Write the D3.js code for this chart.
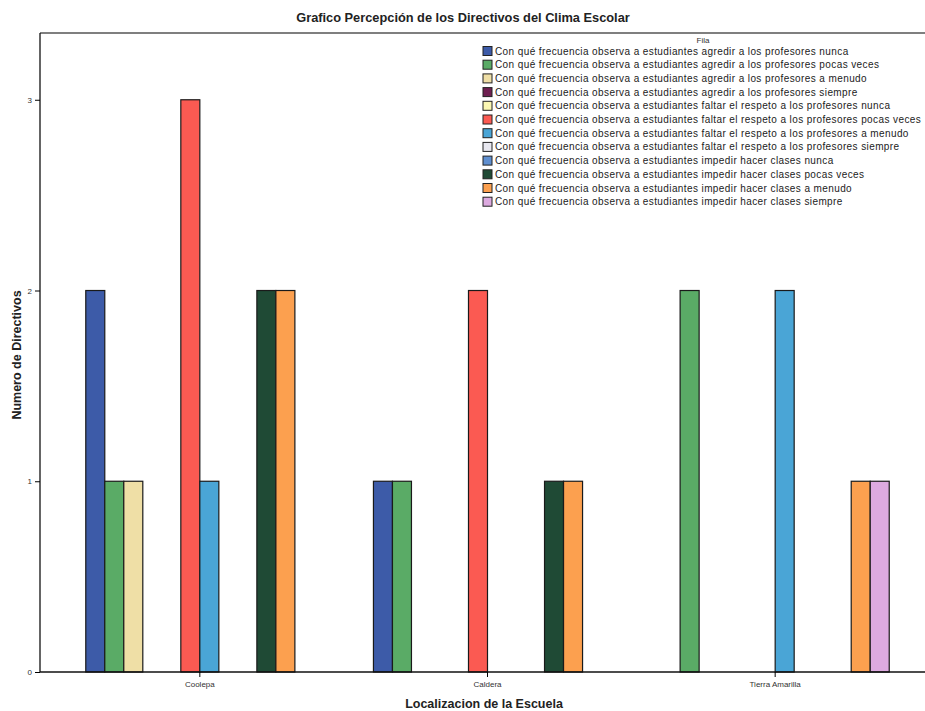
<!DOCTYPE html>
<html><head><meta charset="utf-8">
<script src="https://cdn.jsdelivr.net/npm/d3@7"></script>
<style>body{margin:0;background:#fff}svg{display:block}text{font-family:"Liberation Sans",Arial,sans-serif}</style>
</head><body><svg id="c" width="925" height="711"></svg>
<script>
const categories = ["Coolepa", "Caldera", "Tierra Amarilla"];
const series = [
  "Con qué frecuencia observa a estudiantes agredir a los profesores nunca",
  "Con qué frecuencia observa a estudiantes agredir a los profesores pocas veces",
  "Con qué frecuencia observa a estudiantes agredir a los profesores a menudo",
  "Con qué frecuencia observa a estudiantes agredir a los profesores siempre",
  "Con qué frecuencia observa a estudiantes faltar el respeto a los profesores nunca",
  "Con qué frecuencia observa a estudiantes faltar el respeto a los profesores pocas veces",
  "Con qué frecuencia observa a estudiantes faltar el respeto a los profesores a menudo",
  "Con qué frecuencia observa a estudiantes faltar el respeto a los profesores siempre",
  "Con qué frecuencia observa a estudiantes impedir hacer clases nunca",
  "Con qué frecuencia observa a estudiantes impedir hacer clases pocas veces",
  "Con qué frecuencia observa a estudiantes impedir hacer clases a menudo",
  "Con qué frecuencia observa a estudiantes impedir hacer clases siempre"
];
const colors = ["#3d5ba8","#5aab66","#efdfa6","#6e1f50","#fbf7b2","#fb5a52","#4aa5d6","#e8e8f0","#5f8fd0","#1f4a35","#fca04f","#ddaae0"];
const valuesCoolepa = [2,1,1,0,0,3,1,0,0,2,2,0];
const valuesCaldera = [1,1,0,0,0,2,0,0,0,1,1,0];
const valuesTierraAmarilla = [0,2,0,0,0,0,2,0,0,0,1,1];
const values = [valuesCoolepa, valuesCaldera, valuesTierraAmarilla];
const yTicks = [0,1,2,3];

const svg = d3.select("#c");
const x0 = d3.scaleBand().domain(categories).range([56, 919]).paddingInner(0.207).paddingOuter(0.1035);
const x1 = d3.scaleBand().domain(d3.range(series.length)).range([0, x0.bandwidth()]);
const y = d3.scaleLinear().domain([0, 3.35]).range([672, 33]);

// frame top line
svg.append("line").attr("x1",40).attr("x2",925).attr("y1",33).attr("y2",33).attr("stroke","#555").attr("stroke-width",1.5);

// bars
const g = svg.append("g");
categories.forEach((c, ci) => {
  values[ci].forEach((v, si) => {
    if (v <= 0) return;
    g.append("rect")
      .attr("x", x0(c) + x1(si))
      .attr("y", y(v))
      .attr("width", x1.bandwidth())
      .attr("height", y(0) - y(v))
      .attr("fill", colors[si])
      .attr("stroke", "#1a1a1a").attr("stroke-width", 1.2);
  });
});

// axes
const yAxis = svg.append("g").attr("transform","translate(40,0)")
  .call(d3.axisLeft(y).tickValues(yTicks).tickFormat(d3.format("d")).tickSize(5));
yAxis.select(".domain").attr("stroke","#111").attr("stroke-width",1.3).attr("d","M0,33V672");
yAxis.selectAll("text").attr("font-size",8).attr("fill","#333");
const xAxis = svg.append("g").attr("transform","translate(0,672)")
  .call(d3.axisBottom(x0).tickSize(5));
xAxis.select(".domain").attr("stroke","#111").attr("stroke-width",1.3).attr("d","M40,0H925");
xAxis.selectAll("text").attr("font-size",8).attr("fill","#333").attr("dy","0.9em");

// titles
svg.append("text").attr("x",463).attr("y",22).attr("text-anchor","middle").attr("font-size",12.8).attr("font-weight","bold").attr("fill","#222")
  .text("Grafico Percepción de los Directivos del Clima Escolar");
svg.append("text").attr("x",484).attr("y",708).attr("text-anchor","middle").attr("font-size",12.5).attr("font-weight","bold").attr("fill","#222")
  .text("Localizacion de la Escuela");
svg.append("text").attr("transform","translate(21,355) rotate(-90)").attr("text-anchor","middle").attr("font-size",12.5).attr("font-weight","bold").attr("fill","#222")
  .text("Numero de Directivos");

// legend
const lg = svg.append("g");
lg.append("text").attr("x",703).attr("y",43).attr("text-anchor","middle").attr("font-size",8).attr("fill","#333").text("Fila");
series.forEach((s, i) => {
  const yy = 51 + i * 13.7;
  lg.append("rect").attr("x",483).attr("y",yy-4.5).attr("width",9).attr("height",9)
    .attr("fill",colors[i]).attr("stroke","#222").attr("stroke-width",1);
  lg.append("text").attr("x",495).attr("y",yy+3.5).attr("font-size",10).attr("letter-spacing","0.4px").attr("fill","#222").text(s);
});
</script></body></html>
